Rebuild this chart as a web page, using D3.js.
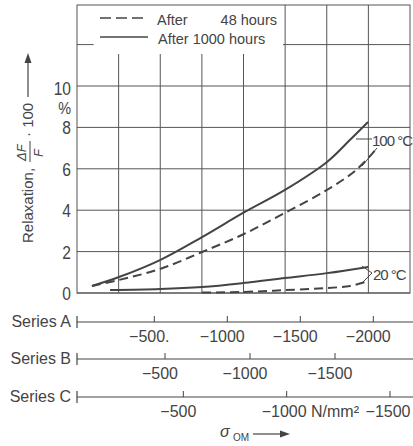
<!DOCTYPE html>
<html>
<head>
<meta charset="utf-8">
<script src="https://cdn.jsdelivr.net/npm/d3@7"></script>
<style>
  body { margin: 0; background: #fff; }
  text { font-family: "Liberation Sans", Arial, sans-serif; fill: #444; }
</style>
</head>
<body>
<div id="chart"></div>
<script>
// stress values (Series A scale, N/mm2) and relaxation in %
let hot1000X = [-73, -258, -539, -827, -1114, -1395, -1683, -1841, -1964]
let hot1000Y = [0.34, 0.77, 1.59, 2.7, 3.89, 4.98, 6.33, 7.4, 8.26]
let hot48X = [-73, -258, -539, -827, -1114, -1402, -1683, -1882, -2026]
let hot48Y = [0.34, 0.63, 1.16, 1.98, 2.85, 3.9, 4.98, 5.94, 7.0]
let cold1000X = [-197, -539, -827, -1108, -1395, -1683, -1964]
let cold1000Y = [0.14, 0.19, 0.29, 0.48, 0.72, 0.96, 1.26]
let cold48X = [-827, -1108, -1395, -1683, -1841, -1944]
let cold48Y = [0.02, 0.05, 0.14, 0.24, 0.34, 0.53]

let yTicks = [0, 2, 4, 6, 8, 10]
let seriesNames = ['Series A', 'Series B', 'Series C']
let ticksA = [-500, -1000, -1500, -2000]
let ticksB = [-500, -1000, -1500]
let ticksC = [-500, -1000, -1500]
let tickLabelsA = ['-500.', '-1000', '-1500', '-2000']
let tickLabelsB = ['-500', '-1000', '-1500']
let tickLabelsC = ['-500', '-1000 N/mm\u00b2', '-1500']

let width = 413
let height = 446
let ink = '#444'

let svg = d3.select('#chart')
  .append('svg')
  .attr('width', width)
  .attr('height', height)

let pLeft = 77, pRight = 410, pTop = 5, pBottom = 293

let y = d3.scaleLinear().domain([0, 10]).range([pBottom, 86])
let xA = d3.scaleLinear().domain([0, -2000]).range([81.3, 373.3])
let xB = d3.scaleLinear().domain([0, -1500]).range([80, 335])
let xC = d3.scaleLinear().domain([0, -1500]).range([80, 390])
// grid columns (8 equal cells)
let gx = d3.scaleLinear().domain([0, 8]).range([pLeft, pRight])

let grid = svg.append('g').attr('stroke', '#555').attr('stroke-width', 1)

// horizontal grid lines
grid.selectAll('line.h')
  .data(yTicks)
  .enter()
  .append('line')
  .attr('x1', pLeft).attr('x2', pRight)
  .attr('y1', d => y(d)).attr('y2', d => y(d))
// the 12 line is broken by the legend
grid.append('line').attr('x1', pLeft).attr('x2', gx(0.4)).attr('y1', y(12)).attr('y2', y(12))
grid.append('line').attr('x1', 283).attr('x2', pRight).attr('y1', y(12)).attr('y2', y(12))

// vertical grid lines
grid.selectAll('line.v')
  .data(d3.range(1, 8))
  .enter()
  .append('line')
  .attr('x1', d => gx(d)).attr('x2', d => gx(d))
  .attr('y1', d => d < 5 ? 54 : pTop)
  .attr('y2', pBottom)

// frame
grid.append('rect')
  .attr('x', pLeft).attr('y', pTop)
  .attr('width', pRight - pLeft).attr('height', pBottom - pTop)
  .attr('fill', 'none')

// y tick labels (narrow, tall digits)
svg.selectAll('text.yt')
  .data(yTicks)
  .enter()
  .append('text')
  .attr('transform', d => 'translate(71,' + (y(d) + (d === 10 ? 9 : 7)) + ') scale(0.82,1)')
  .attr('text-anchor', 'end')
  .style('font-size', '19px')
  .text(d => d)
svg.append('text').attr('transform', 'translate(71,114) scale(0.85,1)').attr('text-anchor', 'end')
  .style('font-size', '17px').text('%')

// y title
let yt = svg.append('g').attr('transform', 'translate(33,243) rotate(-90)')
yt.append('text').attr('x', 0).attr('y', 0).style('font-size', '15px').text('Relaxation,')
yt.append('text').attr('x', 82).attr('y', -7).style('font-size', '13px').style('font-style', 'italic').text('\u0394F')
yt.append('line').attr('x1', 81).attr('x2', 102).attr('y1', -3).attr('y2', -3).attr('stroke', ink)
yt.append('text').attr('x', 86).attr('y', 10).style('font-size', '13px').style('font-style', 'italic').text('F')
yt.append('text').attr('x', 106).attr('y', 0).style('font-size', '15px').text('\u00b7 100')
yt.append('line').attr('x1', 146).attr('x2', 186).attr('y1', -5).attr('y2', -5).attr('stroke', ink).attr('stroke-width', 1.2)
yt.append('path').attr('d', 'M190,-5 L180,-8.5 L180,-1.5 Z').attr('fill', ink)

// curves
let line = d3.line()
  .x(d => xA(d[0]))
  .y(d => y(d[1]))
  .curve(d3.curveCatmullRom.alpha(0.5))

let curves = [
  { xs: hot1000X, ys: hot1000Y, dash: null },
  { xs: hot48X, ys: hot48Y, dash: '9,5' },
  { xs: cold1000X, ys: cold1000Y, dash: null },
  { xs: cold48X, ys: cold48Y, dash: '9,5' }
]
svg.append('g')
  .selectAll('path')
  .data(curves)
  .enter()
  .append('path')
  .attr('d', d => line(d3.zip(d.xs, d.ys)))
  .attr('fill', 'none')
  .attr('stroke', ink)
  .attr('stroke-width', 2)
  .attr('stroke-dasharray', d => d.dash)

// curve labels with leader lines
let leaders = svg.append('g').attr('stroke', ink).attr('stroke-width', 1)
leaders.append('line').attr('x1', 372).attr('y1', 139).attr('x2', 356).attr('y2', 139)
leaders.append('line').attr('x1', 377).attr('y1', 148).attr('x2', 362).attr('y2', 166)
leaders.append('line').attr('x1', 372).attr('y1', 273).attr('x2', 362).attr('y2', 266)
leaders.append('line').attr('x1', 372).attr('y1', 273).attr('x2', 362).attr('y2', 283)
svg.append('text').attr('x', 372).attr('y', 146).style('font-size', '15px').style('letter-spacing', '-1px').text('100 \u00b0C')
svg.append('text').attr('x', 373).attr('y', 280).style('font-size', '15px').style('letter-spacing', '-1px').text('20 \u00b0C')

// legend
let legend = svg.append('g')
legend.append('line').attr('x1', 100).attr('x2', 148).attr('y1', 18).attr('y2', 18)
  .attr('stroke', ink).attr('stroke-width', 1.5).attr('stroke-dasharray', '11,5')
legend.append('line').attr('x1', 100).attr('x2', 148).attr('y1', 37).attr('y2', 37)
  .attr('stroke', ink).attr('stroke-width', 1.5)
legend.append('text').attr('x', 157).attr('y', 25).style('font-size', '14.5px').text('After')
legend.append('text').attr('x', 277).attr('y', 25).attr('text-anchor', 'end').style('font-size', '14.5px').text('48 hours')
legend.append('text').attr('x', 158).attr('y', 44).style('font-size', '14.5px').text('After 1000 hours')

// lower stress axes
let axes = [
  { name: seriesNames[0], yPos: 322, scale: xA, ticks: ticksA, labels: tickLabelsA },
  { name: seriesNames[1], yPos: 359, scale: xB, ticks: ticksB, labels: tickLabelsB },
  { name: seriesNames[2], yPos: 397, scale: xC, ticks: ticksC, labels: tickLabelsC }
]
axes.forEach(a => {
  let g = svg.append('g')
  g.append('line').attr('x1', pLeft).attr('x2', width).attr('y1', a.yPos).attr('y2', a.yPos)
    .attr('stroke', ink).attr('stroke-width', 1.2)
  g.append('line').attr('x1', pLeft).attr('x2', pLeft).attr('y1', a.yPos - 6).attr('y2', a.yPos + 6)
    .attr('stroke', ink).attr('stroke-width', 1.2)
  g.append('text').attr('x', 71).attr('y', a.yPos + 5).attr('text-anchor', 'end')
    .style('font-size', '16px').text(a.name)
  g.selectAll('line.t')
    .data(a.ticks)
    .enter()
    .append('line')
    .attr('x1', d => a.scale(d)).attr('x2', d => a.scale(d))
    .attr('y1', a.yPos - 6).attr('y2', a.yPos)
    .attr('stroke', ink)
  let unitLabel = (i) => a.labels[i].indexOf('N/') > 0
  g.selectAll('text.t')
    .data(a.ticks)
    .enter()
    .append('text')
    .attr('x', (d, i) => unitLabel(i) ? a.scale(d) - 25 : a.scale(d) - (a.name === 'Series C' && i === 2 ? 2 : 5))
    .attr('y', a.yPos + 20)
    .attr('text-anchor', (d, i) => unitLabel(i) ? 'start' : 'middle')
    .style('font-size', '16px')
    .text((d, i) => a.labels[i].replace('-', '\u2212'))
})

// sigma label with arrow
svg.append('text').attr('x', 220).attr('y', 437).style('font-size', '16px').style('font-style', 'italic').text('\u03c3')
svg.append('text').attr('x', 233).attr('y', 441).style('font-size', '10px').text('OM')
svg.append('line').attr('x1', 253).attr('x2', 283).attr('y1', 434).attr('y2', 434).attr('stroke', ink).attr('stroke-width', 1.2)
svg.append('path').attr('d', 'M290,434 L280,430.5 L280,437.5 Z').attr('fill', ink)
</script>
</body>
</html>
